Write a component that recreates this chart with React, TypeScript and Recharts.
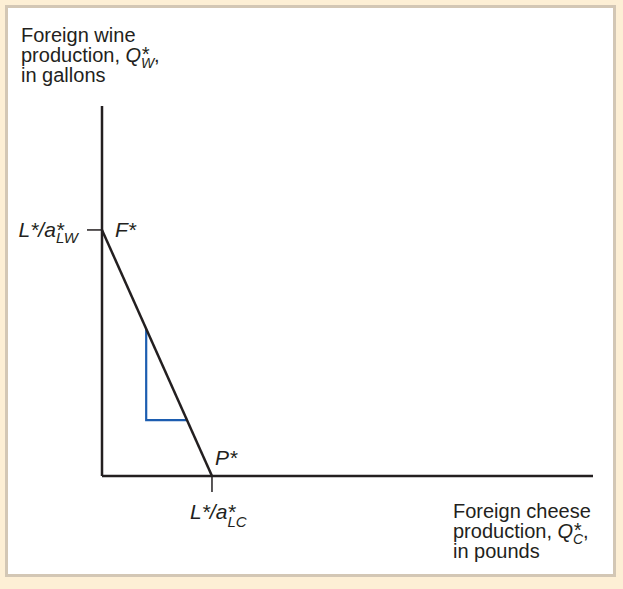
import React from 'react';
import { ComposedChart, Line, XAxis, YAxis, LabelList } from 'recharts';

// foreign PPF end points (cheese on x, wine on y)
const ppfCheese = [0, 22.4];
const ppfWine = [66.5, 0];
const pointLabels = ['F*', 'P*'];

// blue slope triangle under the PPF
const slopeCheese = [9, 9, 17.3];
const slopeWine = [39.8, 15.1, 15.1];

const xTicks = [22.4];
const yTicks = [66.5];

const ppfData = ppfCheese.map((x, i) => ({ x, y: ppfWine[i], label: pointLabels[i] }));
const slopeData = slopeCheese.map((x, i) => ({ x, y: slopeWine[i] }));

const INK = '#231F20';
const BLUE = '#1C5DB0';
const FONT = '"Liberation Sans", Arial, Helvetica, sans-serif';

const WineTick = (props: any) => {
  const { x, y } = props;
  return (
    <text x={x - 7} y={y + 7} textAnchor="end" fill={INK} fontFamily={FONT} fontSize={21} fontStyle="italic">
      L*/a<tspan>*</tspan>
      <tspan dx={-8} dy={6} fontSize={15}>LW</tspan>
    </text>
  );
};

const CheeseTick = (props: any) => {
  const { x, y } = props;
  return (
    <text x={x - 22} y={y + 25} fill={INK} fontFamily={FONT} fontSize={21} fontStyle="italic">
      L*/a<tspan>*</tspan>
      <tspan dx={-8} dy={8} fontSize={15}>LC</tspan>
    </text>
  );
};

const PointLabel = (props: any) => {
  const { x, y, value } = props;
  const isF = value === 'F*';
  return (
    <text
      x={x + (isF ? 13 : 3)}
      y={y + (isF ? 7 : -11)}
      fill={INK}
      fontFamily={FONT}
      fontSize={21}
      fontStyle="italic"
    >
      {value}
    </text>
  );
};

const App: React.FC = () => {
  return (
    <div style={{ position: 'absolute', left: 0, top: 0, width: 623, height: 589, background: '#FDEFD5' }}>
      <div
        style={{
          position: 'absolute',
          left: 5,
          top: 5,
          width: 611,
          height: 572,
          background: '#ffffff',
          border: '3px solid #D3C7B5',
          boxSizing: 'border-box'
        }}
      />
      <div style={{ position: 'absolute', left: 0, top: 0 }}>
        <ComposedChart width={623} height={589} margin={{ top: 106, right: 30, bottom: 112, left: 101 }}>
          <XAxis
            type="number"
            dataKey="x"
            domain={[0, 100]}
            ticks={xTicks}
            height={1}
            tickSize={16}
            axisLine={{ stroke: INK, strokeWidth: 2.5 }}
            tickLine={{ stroke: INK, strokeWidth: 1.5 }}
            tick={<CheeseTick />}
            allowDataOverflow
          />
          <YAxis
            type="number"
            dataKey="y"
            domain={[0, 100]}
            ticks={yTicks}
            width={1}
            tickSize={15}
            axisLine={{ stroke: INK, strokeWidth: 2.5 }}
            tickLine={{ stroke: INK, strokeWidth: 1.5 }}
            tick={<WineTick />}
            allowDataOverflow
          />
          <Line
            data={slopeData}
            dataKey="y"
            type="linear"
            stroke={BLUE}
            strokeWidth={2.2}
            dot={false}
            activeDot={false}
            isAnimationActive={false}
          />
          <Line
            data={ppfData}
            dataKey="y"
            type="linear"
            stroke={INK}
            strokeWidth={2.5}
            dot={false}
            activeDot={false}
            isAnimationActive={false}
          >
            <LabelList dataKey="label" content={<PointLabel />} />
          </Line>
        </ComposedChart>
      </div>
      <svg width={623} height={589} style={{ position: 'absolute', left: 0, top: 0, pointerEvents: 'none' }}>
        <g fill={INK} fontFamily={FONT} fontSize={20}>
          <text x={21} y={42}>Foreign wine</text>
          <text x={21} y={62}>
            production, <tspan fontStyle="italic">Q</tspan>
            <tspan fontStyle="italic" dy={-1}>*</tspan>
            <tspan fontStyle="italic" dx={-8} dy={7} fontSize={14}>W</tspan>
            <tspan dy={-6}>,</tspan>
          </text>
          <text x={21} y={82}>in gallons</text>
          <text x={453} y={518}>Foreign cheese</text>
          <text x={453} y={538}>
            production, <tspan fontStyle="italic">Q</tspan>
            <tspan fontStyle="italic" dy={-1}>*</tspan>
            <tspan fontStyle="italic" dx={-8} dy={7} fontSize={14}>C</tspan>
            <tspan dy={-6}>,</tspan>
          </text>
          <text x={453} y={558}>in pounds</text>
        </g>
      </svg>
    </div>
  );
};

export default App;
